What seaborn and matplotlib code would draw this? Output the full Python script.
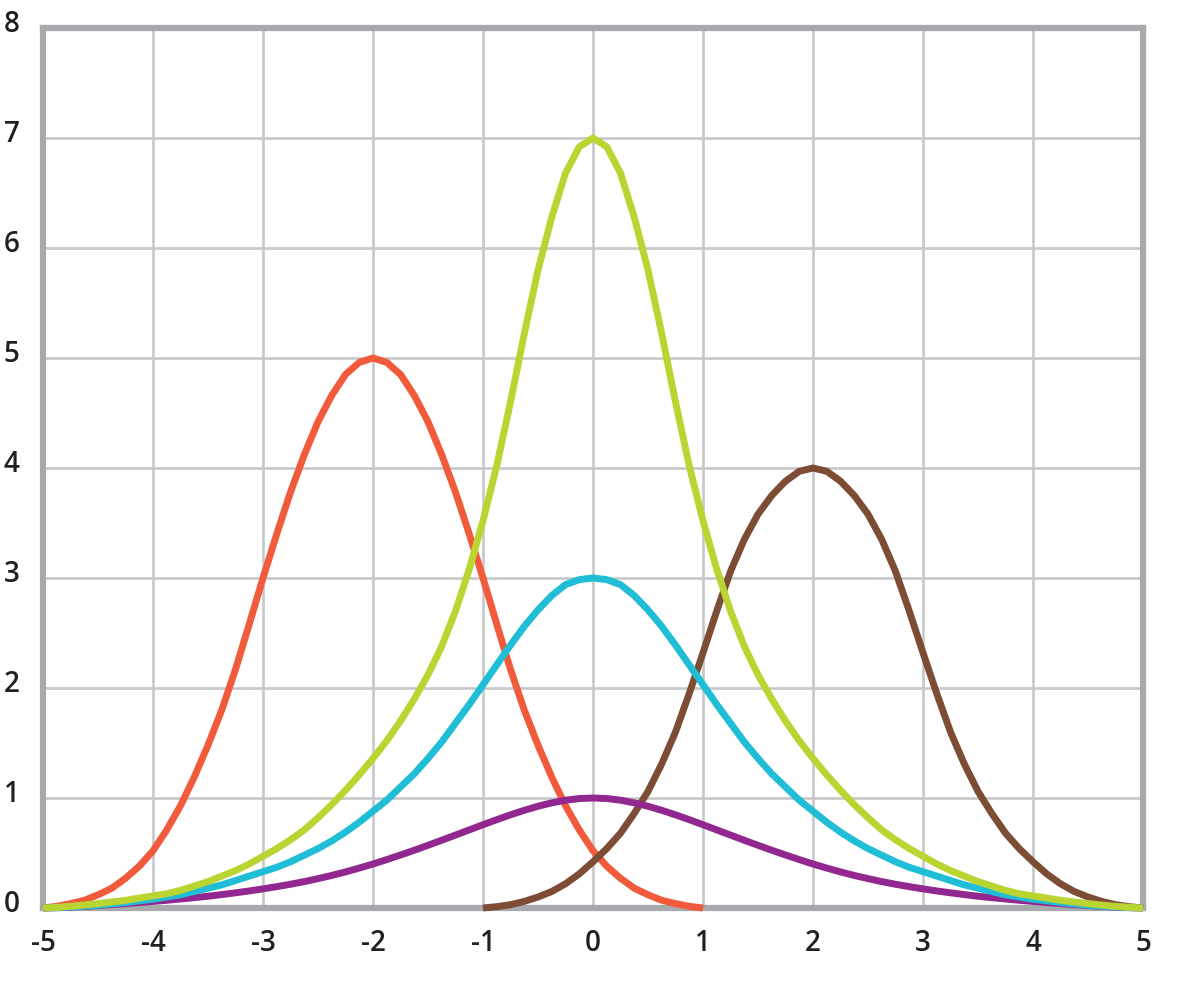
import pandas as pd
import matplotlib.pyplot as plt
import seaborn as sns
from matplotlib.transforms import ScaledTranslation

# sample positions (every 1/8 unit) and the values
x_full = [-5, -4.875, -4.75, -4.625, -4.5, -4.375, -4.25, -4.125,
          -4, -3.875, -3.75, -3.625, -3.5, -3.375, -3.25, -3.125,
          -3, -2.875, -2.75, -2.625, -2.5, -2.375, -2.25, -2.125,
          -2, -1.875, -1.75, -1.625, -1.5, -1.375, -1.25, -1.125,
          -1, -0.875, -0.75, -0.625, -0.5, -0.375, -0.25, -0.125,
          0, 0.125, 0.25, 0.375, 0.5, 0.625, 0.75, 0.875,
          1, 1.125, 1.25, 1.375, 1.5, 1.625, 1.75, 1.875,
          2, 2.125, 2.25, 2.375, 2.5, 2.625, 2.75, 2.875,
          3, 3.125, 3.25, 3.375, 3.5, 3.625, 3.75, 3.875,
          4, 4.125, 4.25, 4.375, 4.5, 4.625, 4.75, 4.875, 5]

red_x = x_full[:49]     # -5 .. 1
brown_x = x_full[32:]   # -1 .. 5

red_y = [0, 0.015, 0.04, 0.07, 0.12, 0.18, 0.27, 0.38,
         0.52, 0.71, 0.93, 1.19, 1.48, 1.8, 2.17, 2.58,
         3.0, 3.4, 3.78, 4.12, 4.42, 4.66, 4.85, 4.96,
         5.0, 4.96, 4.85, 4.66, 4.42, 4.12, 3.78, 3.4,
         3.0, 2.58, 2.17, 1.8, 1.48, 1.19, 0.93, 0.71,
         0.52, 0.38, 0.27, 0.18, 0.12, 0.07, 0.04, 0.015, 0]

brown_y = [0, 0.012, 0.03, 0.06, 0.1, 0.15, 0.22, 0.31,
           0.42, 0.54, 0.68, 0.86, 1.06, 1.31, 1.6, 1.95,
           2.32, 2.7, 3.06, 3.35, 3.58, 3.75, 3.88, 3.97,
           4.0, 3.97, 3.88, 3.75, 3.58, 3.35, 3.06, 2.7,
           2.32, 1.95, 1.6, 1.31, 1.06, 0.86, 0.68, 0.54,
           0.42, 0.31, 0.22, 0.15, 0.1, 0.06, 0.03, 0.012, 0]

green_y = [0, 0.006, 0.015, 0.027, 0.04, 0.055, 0.07, 0.09,
           0.11, 0.13, 0.16, 0.2, 0.24, 0.29, 0.34, 0.4,
           0.47, 0.54, 0.62, 0.71, 0.82, 0.94, 1.07, 1.21,
           1.36, 1.52, 1.7, 1.9, 2.12, 2.38, 2.7, 3.08,
           3.52, 4.02, 4.6, 5.22, 5.8, 6.28, 6.68, 6.92,
           7.0, 6.92, 6.68, 6.28, 5.8, 5.22, 4.6, 4.02,
           3.52, 3.08, 2.7, 2.38, 2.12, 1.9, 1.7, 1.52,
           1.36, 1.21, 1.07, 0.94, 0.82, 0.71, 0.62, 0.54,
           0.47, 0.4, 0.34, 0.29, 0.24, 0.2, 0.16, 0.13,
           0.11, 0.09, 0.07, 0.055, 0.04, 0.027, 0.015, 0.006, 0]

cyan_y = [0, 0.004, 0.01, 0.017, 0.025, 0.037, 0.05, 0.065,
          0.08, 0.1, 0.12, 0.15, 0.18, 0.21, 0.25, 0.29,
          0.33, 0.37, 0.42, 0.48, 0.54, 0.61, 0.69, 0.78,
          0.88, 0.98, 1.1, 1.22, 1.36, 1.51, 1.68, 1.85,
          2.03, 2.21, 2.39, 2.56, 2.71, 2.84, 2.94, 2.985,
          3.0, 2.985, 2.94, 2.84, 2.71, 2.56, 2.39, 2.21,
          2.03, 1.85, 1.68, 1.51, 1.36, 1.22, 1.1, 0.98,
          0.88, 0.78, 0.69, 0.61, 0.54, 0.48, 0.42, 0.37,
          0.33, 0.29, 0.25, 0.21, 0.18, 0.15, 0.12, 0.1,
          0.08, 0.065, 0.05, 0.037, 0.025, 0.017, 0.01, 0.004, 0]

purple_y = [0, 0.003, 0.008, 0.015, 0.022, 0.031, 0.04, 0.05,
            0.06, 0.07, 0.082, 0.094, 0.107, 0.122, 0.138, 0.155,
            0.174, 0.194, 0.216, 0.24, 0.267, 0.296, 0.328, 0.363,
            0.4, 0.44, 0.482, 0.525, 0.57, 0.616, 0.663, 0.71,
            0.757, 0.803, 0.847, 0.888, 0.925, 0.956, 0.98, 0.995,
            1.0, 0.995, 0.98, 0.956, 0.925, 0.888, 0.847, 0.803,
            0.757, 0.71, 0.663, 0.616, 0.57, 0.525, 0.482, 0.44,
            0.4, 0.363, 0.328, 0.296, 0.267, 0.24, 0.216, 0.194,
            0.174, 0.155, 0.138, 0.122, 0.107, 0.094, 0.082, 0.07,
            0.06, 0.05, 0.04, 0.031, 0.022, 0.015, 0.008, 0.003, 0]

x_ticks = [-5, -4, -3, -2, -1, 0, 1, 2, 3, 4, 5]
y_ticks = [0, 1, 2, 3, 4, 5, 6, 7, 8]

palette = {
    "red": "#f15a3b",
    "brown": "#7d4c34",
    "purple": "#91278f",
    "cyan": "#20bdd7",
    "green": "#bad532",
}
order = ["red", "brown", "purple", "cyan", "green"]

series = [("red", red_x, red_y), ("brown", brown_x, brown_y),
          ("purple", x_full, purple_y), ("cyan", x_full, cyan_y),
          ("green", x_full, green_y)]
df = pd.concat([pd.DataFrame({"x": xs, "y": ys, "curve": name}) for name, xs, ys in series],
               ignore_index=True)

sns.set_theme(style="whitegrid")
plt.rcParams['font.family'] = ['Open Sans', 'DejaVu Sans']
plt.rcParams['axes.unicode_minus'] = False

fig = plt.figure(figsize=(11.93, 10), dpi=100)
ax = fig.add_axes([43 / 1193, 92 / 1000, 1100 / 1193, 880 / 1000])

sns.lineplot(data=df, x="x", y="y", hue="curve", hue_order=order, palette=palette,
             estimator=None, sort=False, linewidth=5.0, legend=False, ax=ax)
for line in ax.lines:
    line.set_clip_on(False)
    line.set_zorder(3)
    line.set_solid_capstyle('butt')
    line.set_solid_joinstyle('round')

ax.set_xlim(-5, 5)
ax.set_ylim(0, 8)
ax.set_xticks(x_ticks)
ax.set_yticks(y_ticks)
ax.set_xlabel('')
ax.set_ylabel('')
ax.grid(True, color='#c6c8ca', linewidth=1.9)
ax.set_axisbelow(True)
for side in ['left', 'right', 'top', 'bottom']:
    ax.spines[side].set_visible(True)
    ax.spines[side].set_color('#a7a9ac')
    ax.spines[side].set_linewidth(4.5)
    ax.spines[side].set_zorder(2.5)

ax.tick_params(axis='x', length=0, pad=15, labelsize=20, labelcolor='#231f20')
ax.tick_params(axis='y', length=0, pad=17, labelsize=20, labelcolor='#231f20')
for lab in ax.get_xticklabels() + ax.get_yticklabels():
    lab.set_fontweight('semibold')

# y labels sit a little above their grid lines in the original
shift = ScaledTranslation(0, 7 / 100, fig.dpi_scale_trans)
for lab in ax.get_yticklabels():
    lab.set_transform(lab.get_transform() + shift)

fig.savefig('out.png', dpi=100)
